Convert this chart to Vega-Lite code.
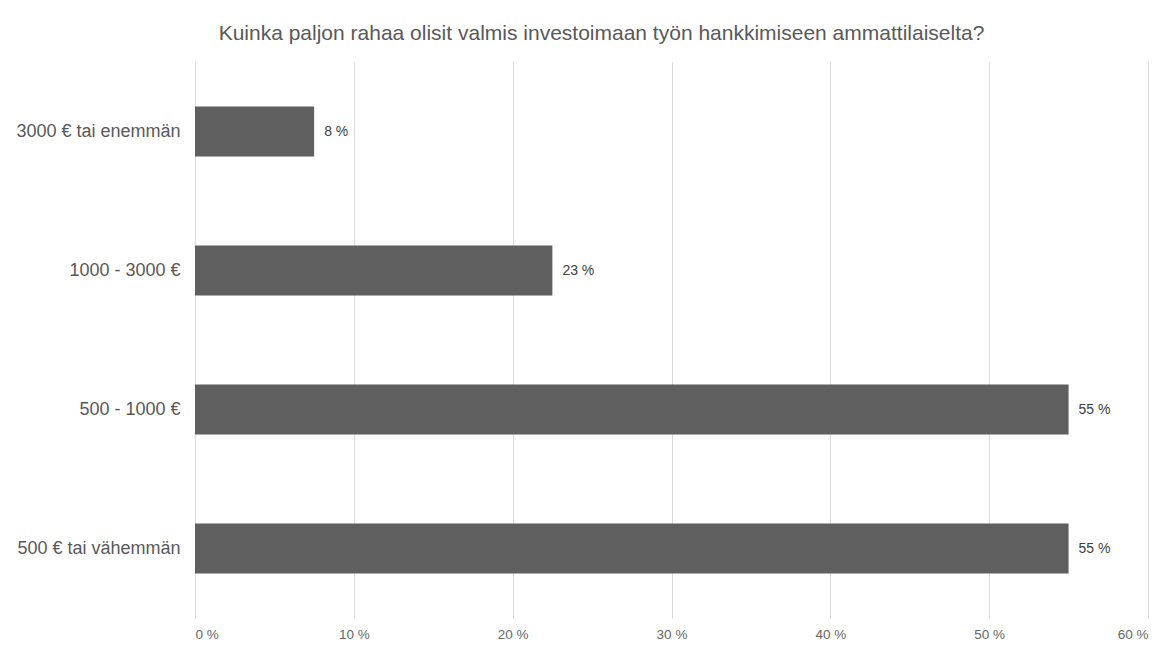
{
  "$schema": "https://vega.github.io/schema/vega-lite/v6.json",
  "autosize": {"type": "none"},
  "width": 953,
  "height": 556,
  "padding": {"left": 195, "top": 62, "right": 28, "bottom": 30},
  "background": "#ffffff",
  "title": {
    "text": "Kuinka paljon rahaa olisit valmis investoimaan työn hankkimiseen ammattilaiselta?",
    "anchor": "middle",
    "dx": -70,
    "offset": 18,
    "fontSize": 21,
    "fontWeight": "normal",
    "font": "Liberation Sans",
    "color": "#595959"
  },
  "data": {
    "values": [
      {"category": "3000 € tai enemmän", "value": 7.5, "label": "8 %"},
      {"category": "1000 - 3000 €", "value": 22.5, "label": "23 %"},
      {"category": "500 - 1000 €", "value": 55, "label": "55 %"},
      {"category": "500 € tai vähemmän", "value": 55, "label": "55 %"}
    ]
  },
  "encoding": {
    "y": {
      "field": "category",
      "type": "nominal",
      "sort": null,
      "scale": {"paddingInner": 0.64, "paddingOuter": 0.32},
      "axis": {
        "title": null,
        "ticks": false,
        "domain": false,
        "labelFontSize": 18,
        "labelFont": "Liberation Sans",
        "labelColor": "#595959",
        "labelPadding": 15
      }
    },
    "x": {
      "field": "value",
      "type": "quantitative",
      "scale": {"domain": [0, 60], "nice": false},
      "axis": {
        "title": null,
        "values": [0, 10, 20, 30, 40, 50, 60],
        "labelExpr": "datum.value + ' %'",
        "ticks": false,
        "domain": false,
        "grid": true,
        "gridColor": "#d9d9d9",
        "labelFontSize": 13.5,
        "labelFont": "Liberation Sans",
        "labelColor": "#666666",
        "labelPadding": 9
      }
    }
  },
  "layer": [
    {"mark": {"type": "bar", "color": "#5f5f5f"}},
    {
      "mark": {"type": "text", "align": "left", "dx": 10, "fontSize": 14, "font": "Liberation Sans", "color": "#404040"},
      "encoding": {"text": {"field": "label"}}
    }
  ],
  "config": {"view": {"stroke": null}}
}
